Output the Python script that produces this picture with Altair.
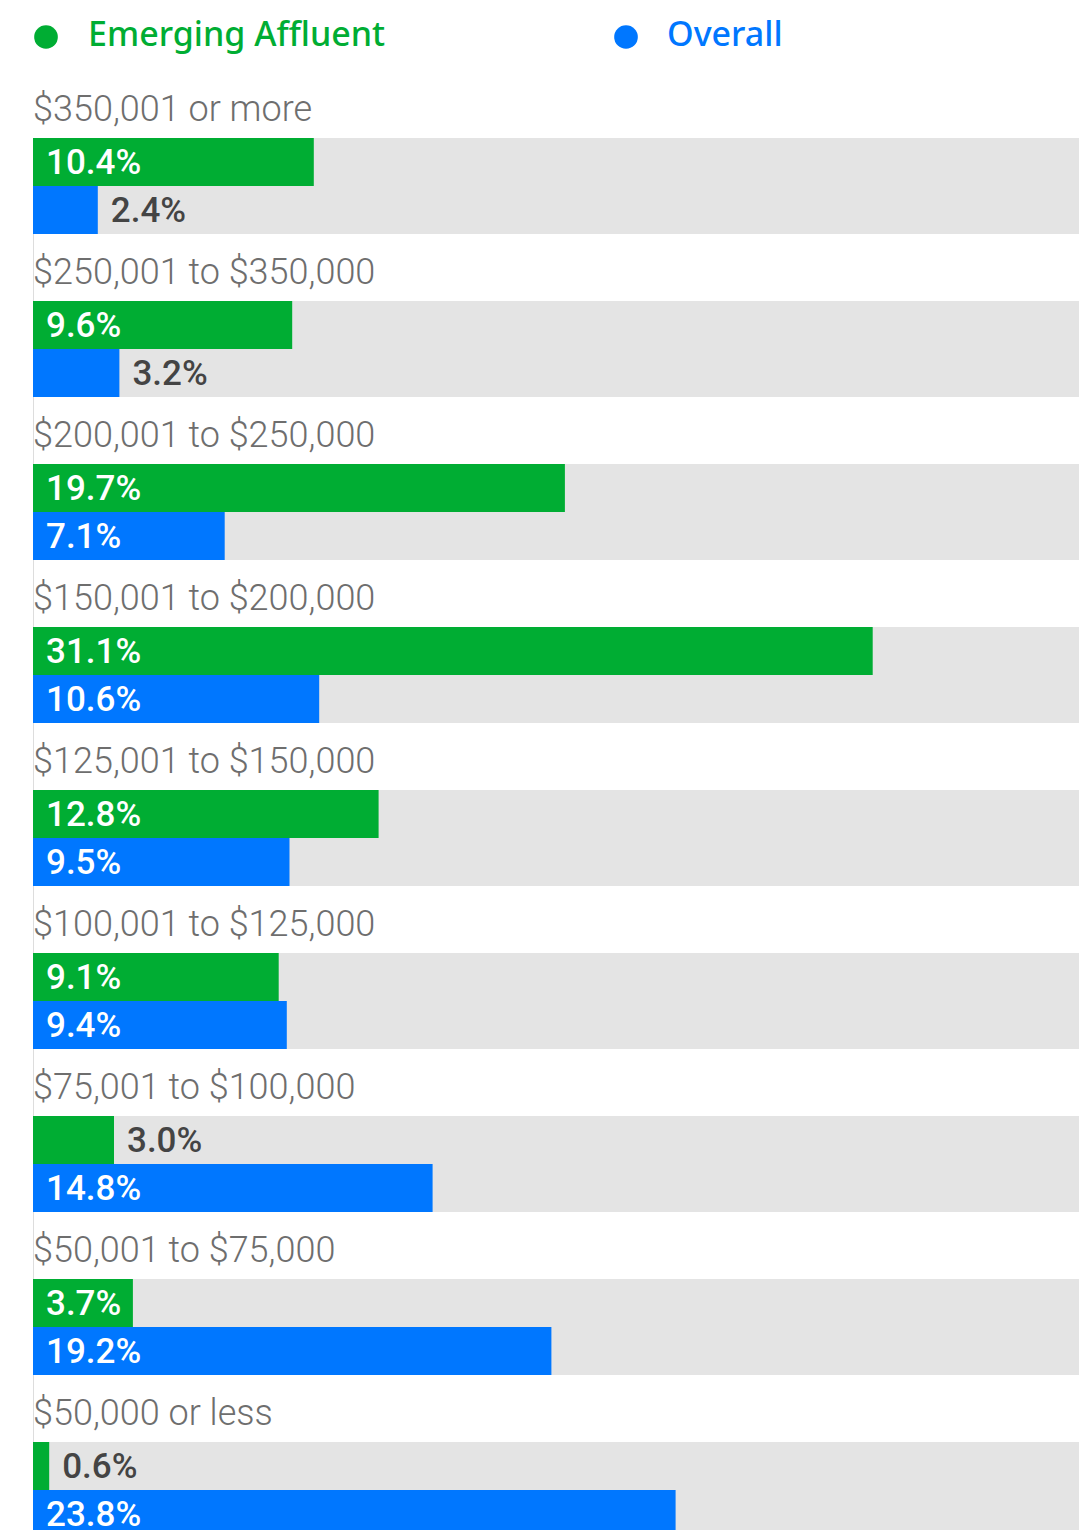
import altair as alt
import pandas as pd

categories = [
    "$350,001 or more",
    "$250,001 to $350,000",
    "$200,001 to $250,000",
    "$150,001 to $200,000",
    "$125,001 to $150,000",
    "$100,001 to $125,000",
    "$75,001 to $100,000",
    "$50,001 to $75,000",
    "$50,000 or less",
]
emerging_affluent = [10.4, 9.6, 19.7, 31.1, 12.8, 9.1, 3.0, 3.7, 0.6]
overall = [2.4, 3.2, 7.1, 10.6, 9.5, 9.4, 14.8, 19.2, 23.8]
series = ["Emerging Affluent", "Overall"]
colors = ["#00AD33", "#0077FF"]

PLOT_W = 1046
track_max = PLOT_W / 27.0

rows = []
for c, a, o in zip(categories, emerging_affluent, overall):
    for s, v in zip(series, [a, o]):
        inside = v >= 3.5
        rows.append({"cat": c, "series": s, "value": v,
                     "label": f"{v:.1f}%", "inside": inside,
                     "lx": 0 if inside else v})
df = pd.DataFrame(rows)
cat_df = pd.DataFrame({"cat": categories})
leg_df = pd.DataFrame({"series": series, "idx": list(range(len(series)))})

FONT = "Roboto"
yscale = alt.Scale(domain=categories, paddingInner=67 / 163, paddingOuter=0)
xscale = alt.Scale(domain=[0, track_max], nice=False, zero=True)
cscale = alt.Scale(domain=series, range=colors)
yoff = alt.YOffset("series:N", scale=alt.Scale(domain=series, paddingInner=0, paddingOuter=0))

track = alt.Chart(cat_df).mark_bar(color="#E4E4E4", cornerRadius=0).encode(
    y=alt.Y("cat:N", scale=yscale, axis=None),
    x=alt.datum(0, scale=xscale),
    x2=alt.datum(track_max),
)

bars = alt.Chart(df).mark_bar(cornerRadius=0).encode(
    y=alt.Y("cat:N", scale=yscale, axis=None),
    yOffset=yoff,
    x=alt.X("value:Q", scale=xscale, axis=None),
    color=alt.Color("series:N", scale=cscale, legend=None),
)

vals = alt.Chart(df).mark_text(
    font=FONT, fontSize=35, fontWeight=500, align="left", baseline="middle", dx=13, dy=1
).encode(
    y=alt.Y("cat:N", scale=yscale, axis=None),
    yOffset=yoff,
    x=alt.X("lx:Q", scale=xscale, axis=None),
    text="label:N",
    color=alt.condition("datum.inside", alt.value("#FFFFFF"), alt.value("#444444")),
)

cat_labels = alt.Chart(cat_df).mark_text(
    font=FONT, fontSize=36, fontWeight=300, align="left", baseline="alphabetic",
    dy=-17, color="#6E6E6E"
).encode(
    y=alt.Y("cat:N", scale=yscale, axis=None, bandPosition=0),
    x=alt.value(0),
    text="cat:N",
)

leg_pts = alt.Chart(leg_df).mark_point(filled=True, size=560, opacity=1, shape="circle").encode(
    x=alt.X("idx:Q", scale=alt.Scale(domain=[0, 1], range=[13, 593], zero=False, nice=False), axis=None),
    y=alt.value(-101),
    color=alt.Color("series:N", scale=cscale, legend=None),
)
leg_txt = alt.Chart(leg_df).mark_text(
    font="Noto Sans", fontSize=34, fontWeight=500, align="left", baseline="middle"
).encode(
    x=alt.X("idx:Q", scale=alt.Scale(domain=[0, 1], range=[55, 634], zero=False, nice=False), axis=None),
    y=alt.value(-102),
    text="series:N",
    color=alt.Color("series:N", scale=cscale, legend=None),
)

chart = alt.layer(track, bars, vals, cat_labels, leg_pts, leg_txt).resolve_scale(
    x="independent"
).properties(
    width=PLOT_W, height=1400,
    autosize=alt.AutoSizeParams(type="none"),
    padding={"left": 25, "top": 130, "right": 0, "bottom": 0},
).configure_view(stroke=None).configure(background="#FFFFFF")

chart.save("out.html", embed_options={"renderer": "svg", "actions": False})
